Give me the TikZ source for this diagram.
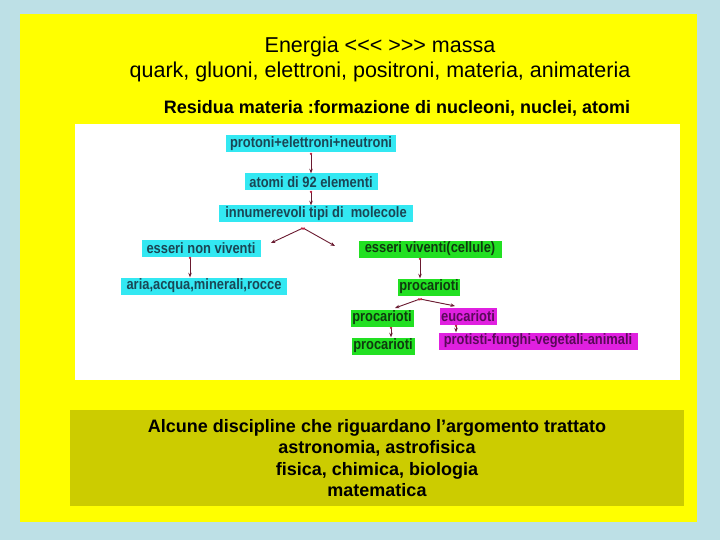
\documentclass[tikz,border=0pt]{standalone}
\usepackage{fontspec}
\setmainfont{Liberation Sans}
\usetikzlibrary{arrows.meta}
\definecolor{bgblue}{HTML}{BDE0E6}
\definecolor{slideyellow}{HTML}{FFFF00}
\definecolor{olive}{HTML}{CCCC00}
\definecolor{cyanbox}{HTML}{33E8F2}
\definecolor{greenbox}{HTML}{22E022}
\definecolor{magbox}{HTML}{E020E0}
\definecolor{cyantext}{HTML}{1A4655}
\definecolor{greentext}{HTML}{0F3A0F}
\definecolor{magtext}{HTML}{5A0A5A}
\definecolor{arrowred}{HTML}{6A1A30}
\definecolor{dotred}{HTML}{C02040}
\newcommand{\nt}[1]{\scalebox{0.86}[1]{#1}}
\tikzset{
  base/.style={inner sep=0pt, minimum height=17pt, font=\fontsize{15}{15}\selectfont\bfseries},
  cbox/.style={base, fill=cyanbox, text=cyantext},
  gbox/.style={base, fill=greenbox, text=greentext},
  mbox/.style={base, fill=magbox, text=magtext},
  conn/.style={arrowred, line width=0.9pt, {Circle[length=2.2pt,color=dotred]}-{Stealth[length=4.5pt,width=3.5pt]}},
  title/.style={font=\fontsize{21.5}{21.5}\selectfont, text=black},
  subt/.style={font=\fontsize{18}{18}\selectfont\bfseries, text=black},
}
\begin{document}
\begin{tikzpicture}[x=1pt,y=-1pt]
\fill[bgblue] (0,0) rectangle (720,540);
\useasboundingbox (0,0) rectangle (720,540);
\fill[slideyellow] (20,14) rectangle (697,522);
\fill[white] (75,124) rectangle (680,380);
\fill[olive] (70,410) rectangle (684,506);
\node[title] (t1) at (380,47) {Energia {<}{<}{<} {>}{>}{>} massa};
\node[title] (t2) at (380,72) {quark, gluoni, elettroni, positroni, materia, animateria};
\node[subt] (t3) at (397,108) {Residua materia :formazione di nucleoni, nuclei, atomi};
\node[cbox, minimum width=170pt] (p) at (311,144) {\nt{protoni+elettroni+neutroni}};
\node[cbox, minimum width=133pt] (a) at (311,182) {\nt{atomi di 92 elementi}};
\node[cbox, minimum width=194pt] (m) at (316,214) {\nt{innumerevoli tipi di\ \ molecole}};
\node[cbox, minimum width=119pt] (nv) at (201,248) {\nt{esseri non viventi}};
\node[cbox, minimum width=166pt] (ar) at (204,286) {\nt{aria,acqua,minerali,rocce}};
\node[gbox, minimum width=143pt] (v) at (430,249) {\nt{esseri viventi(cellule)}};
\node[gbox, minimum width=62pt] (pr) at (429,287) {\nt{procarioti}};
\node[gbox, minimum width=63pt] (pl) at (382,318) {\nt{procarioti}};
\node[gbox, minimum width=63pt] (pb) at (383,346) {\nt{procarioti}};
\node[mbox, minimum width=57pt] (eu) at (468,316) {\nt{eucarioti}};
\node[mbox, minimum width=199pt] (pf) at (538,341) {\nt{protisti-funghi-vegetali-animali}};
\coordinate (s1) at (303,228);
\coordinate (s2) at (420,299);
\draw[conn] (p.south) -- (a.north);
\draw[conn] (a.south) -- (a.south |- m.north);
\draw[conn] (s1) -- (271,243);
\draw[conn] (s1) -- (335,246);
\draw[conn] (nv.south -| 190,0) -- (ar.north -| 190,0);
\draw[conn] (v.south -| 420,0) -- (pr.north -| 420,0);
\draw[conn] (s2) -- (395,308);
\draw[conn] (s2) -- (455,306);
\draw[conn] (pl.south -| 391,0) -- (pb.north -| 391,0);
\draw[conn] (eu.south -| 456,0) -- (pf.north -| 456,0);
\node[subt, align=center, font=\fontsize{18}{21.3}\selectfont\bfseries] (b) at (377,458) {Alcune discipline che riguardano l’argomento trattato\\astronomia, astrofisica\\fisica, chimica, biologia\\matematica};
\end{tikzpicture}
\end{document}
